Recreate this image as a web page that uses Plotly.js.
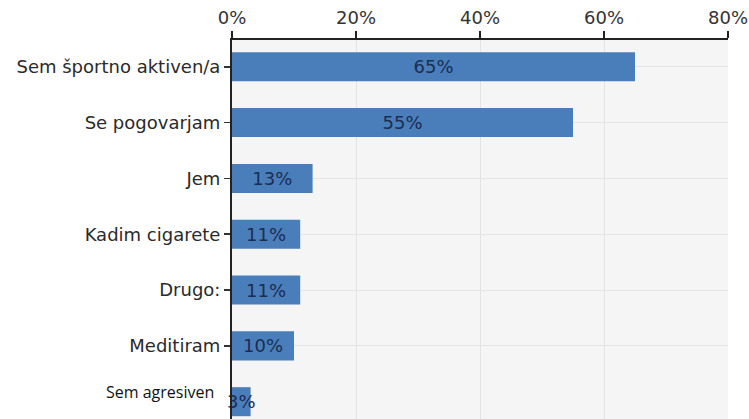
<!DOCTYPE html>
<html>
<head>
<meta charset="utf-8">
<script src="https://cdn.plot.ly/plotly-3.0.1.min.js"></script>
<style>html,body{margin:0;padding:0;background:#fff;}#chart{width:749px;height:419px;}</style>
</head>
<body>
<div id="chart"></div>
<script>
const categories = ["Sem športno aktiven/a", "Se pogovarjam", "Jem", "Kadim cigarete", "Drugo:", "Meditiram", "Sem agresiven"];
const values = [65, 55, 13, 11, 11, 10, 3];
const xTickVals = [0, 20, 40, 60, 80];
const xTickText = ["0%", "20%", "40%", "60%", "80%"];
const yTickCats = categories.slice(0, 6);
const specialLabel = categories[6];

const trace = {
  type: "bar",
  orientation: "h",
  y: categories,
  x: values,
  marker: {color: "#4a7ebb", line: {width: 0}},
  text: values.map(v => v + "%"),
  textposition: "inside",
  insidetextanchor: "middle",
  constraintext: "none",
  textangle: 0,
  textfont: {family: "DejaVu Sans", size: 18, color: "#1a2d52"},
  hoverinfo: "none",
  cliponaxis: false
};

const layout = {
  width: 749,
  height: 419,
  margin: {l: 232, r: 21, t: 40, b: 0},
  paper_bgcolor: "#ffffff",
  plot_bgcolor: "#f5f5f5",
  showlegend: false,
  bargap: 0.48,
  xaxis: {
    side: "top",
    range: [0, 80],
    tickmode: "array",
    tickvals: xTickVals,
    ticktext: xTickText,
    ticks: "outside",
    ticklen: 7,
    tickwidth: 1.5,
    tickcolor: "#222",
    showline: true,
    linecolor: "#222",
    linewidth: 2,
    showgrid: true,
    gridcolor: "#e4e4e4",
    gridwidth: 1,
    zeroline: false,
    tickfont: {family: "DejaVu Sans", size: 18, color: "#333"}
  },
  yaxis: {
    type: "category",
    categoryorder: "array",
    categoryarray: categories,
    range: [6.31, -0.48],
    tickmode: "array",
    tickvals: yTickCats,
    ticktext: yTickCats,
    ticks: "outside",
    ticklen: 6,
    tickwidth: 1.5,
    tickcolor: "#333",
    showline: true,
    linecolor: "#222",
    linewidth: 2,
    showgrid: true,
    gridcolor: "#e4e4e4",
    zeroline: false,
    tickfont: {family: "DejaVu Sans", size: 18, color: "#2a2a2a"}
  },
  annotations: [{
    xref: "paper", yref: "y",
    x: 0, y: specialLabel,
    xanchor: "right", yanchor: "middle",
    xshift: -16, yshift: 10,
    text: specialLabel,
    showarrow: false,
    font: {family: "Open Sans", size: 16, color: "#111"}
  }]
};

Plotly.newPlot("chart", [trace], layout, {displayModeBar: false, staticPlot: true});
</script>
</body>
</html>
